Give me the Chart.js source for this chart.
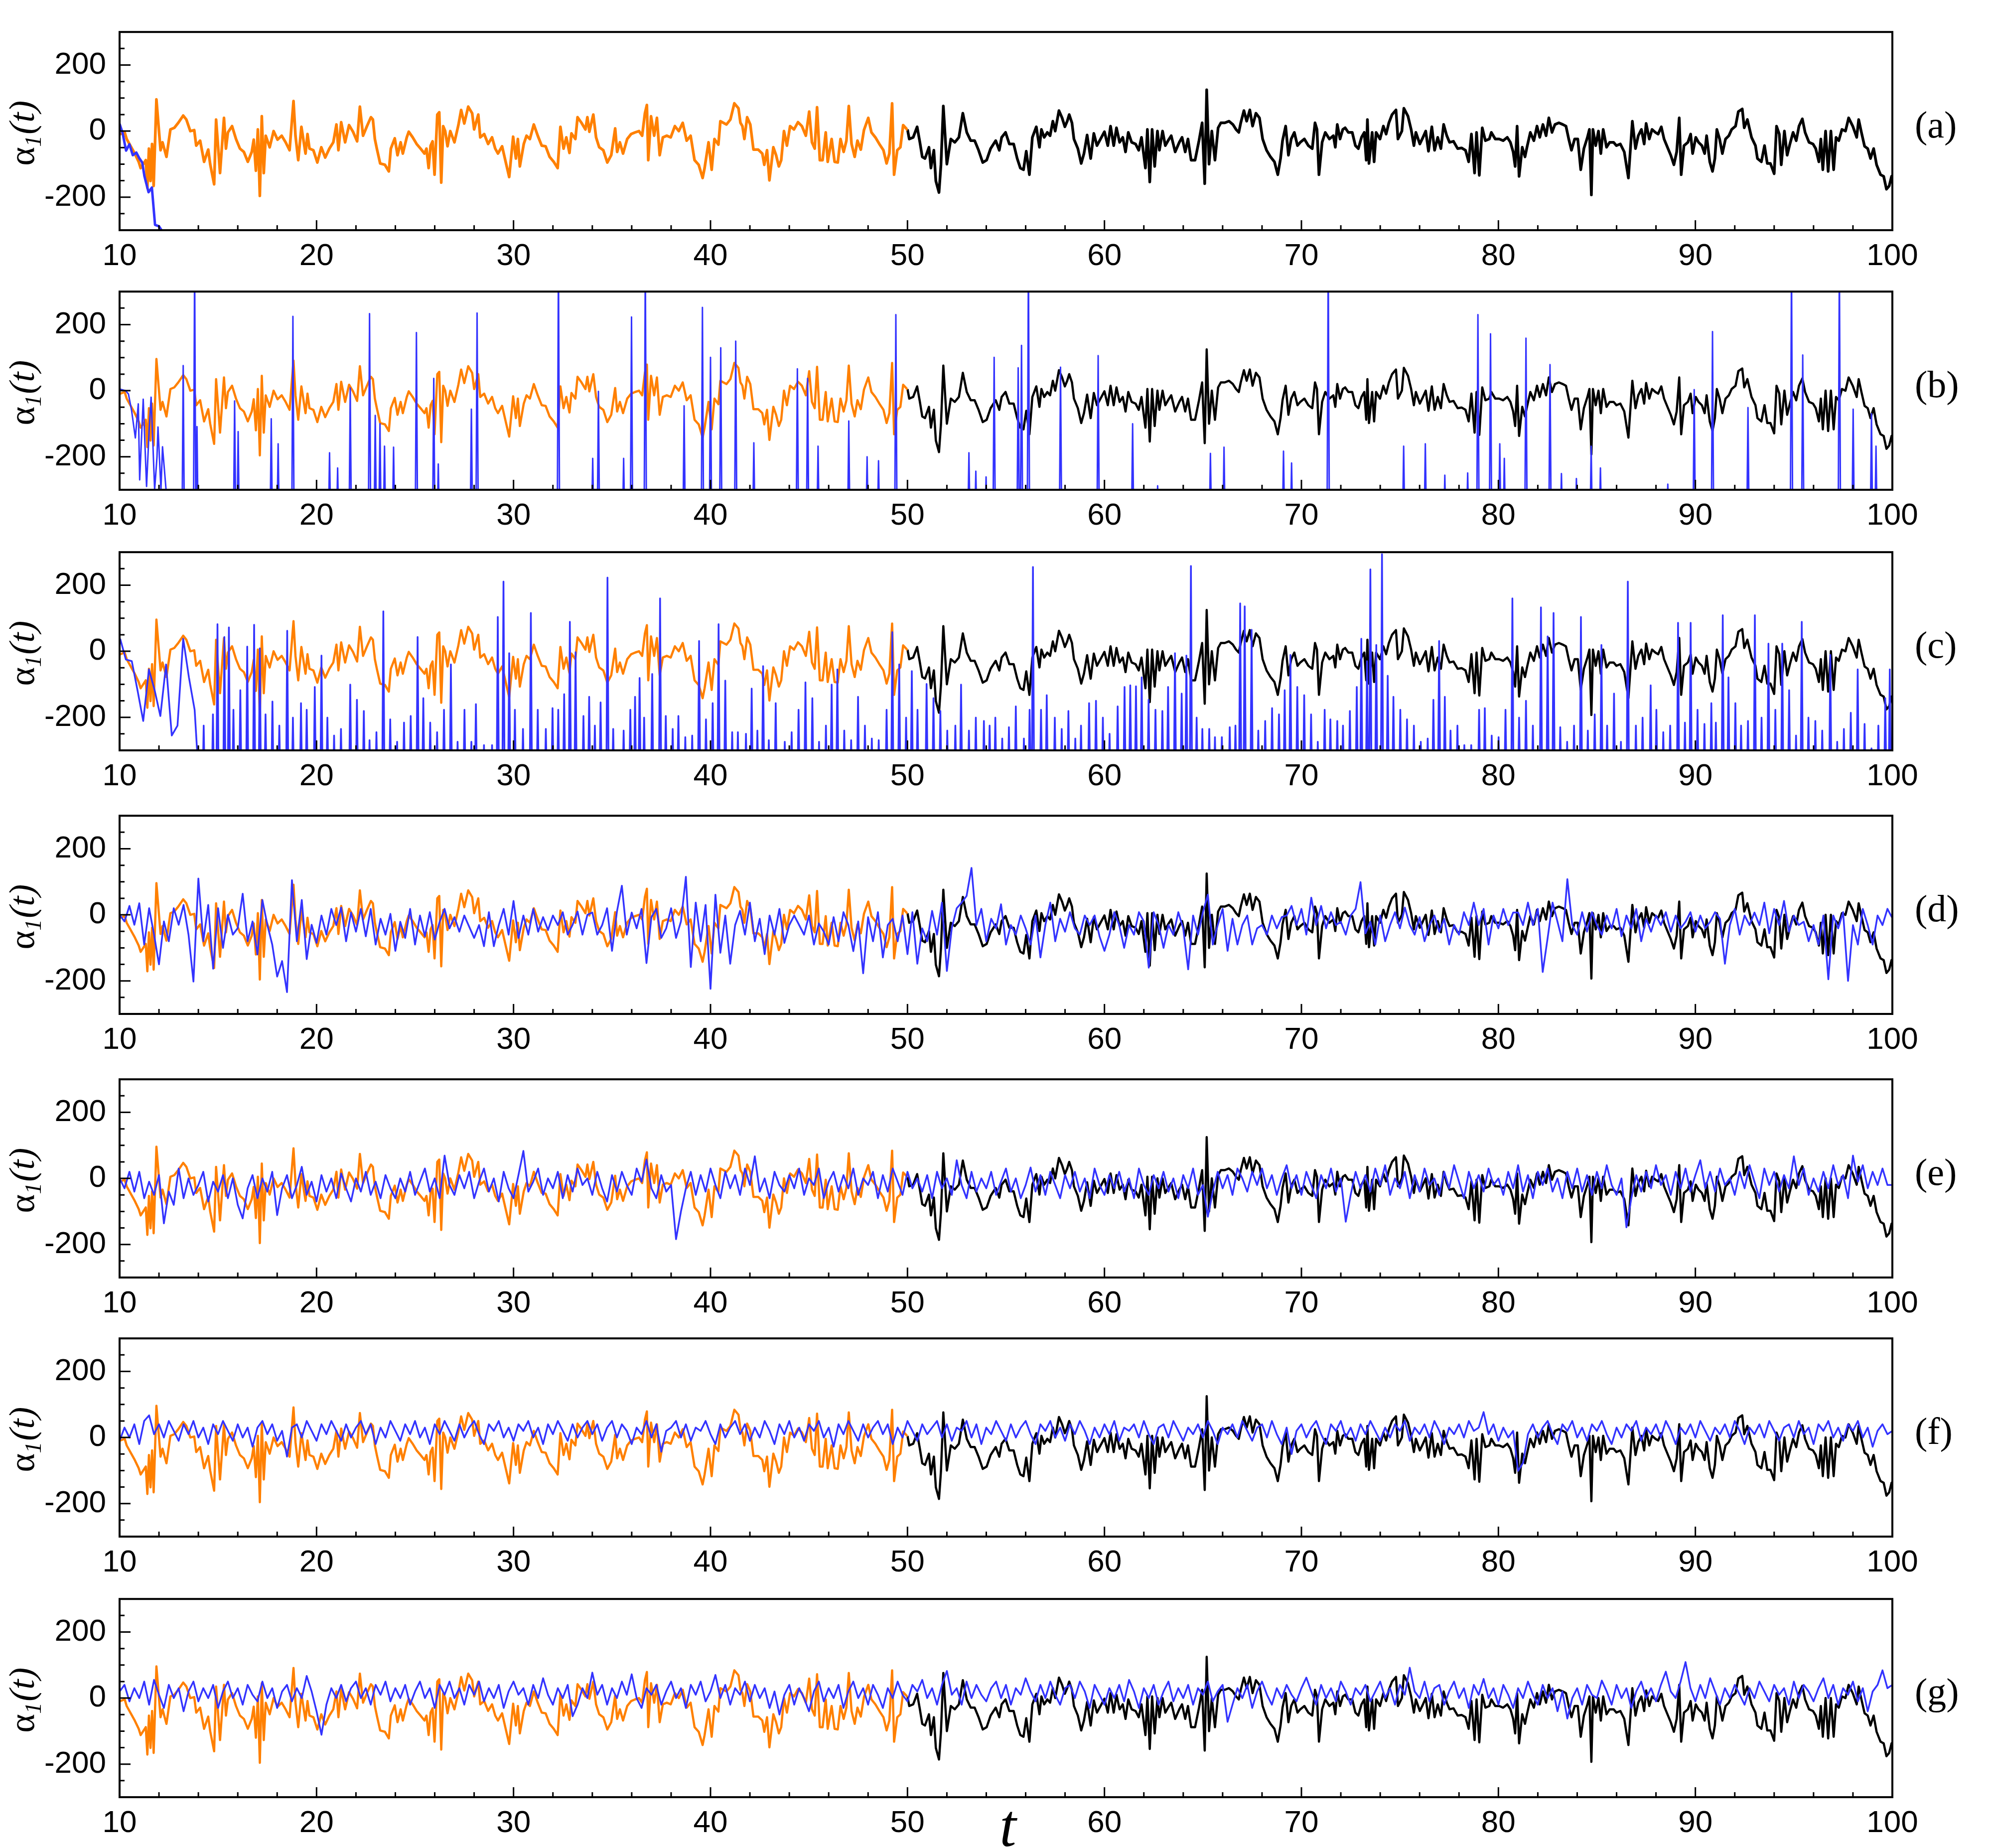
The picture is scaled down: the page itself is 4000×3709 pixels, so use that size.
<!DOCTYPE html>
<html>
<head>
<meta charset="utf-8">
<script src="https://cdn.jsdelivr.net/npm/chart.js@4.4.1/dist/chart.umd.min.js"></script>
<style>
  html, body { margin: 0; padding: 0; background: #fff; }
  #wrap { position: relative; width: 4000px; height: 3709px; overflow: hidden; background: #fff; }
  #wrap canvas { position: absolute; left: 0; }
</style>
</head>
<body>
<div id="wrap"></div>
<script>
// reference signal, 10 <= t <= 50 (orange)
const orangeT = [
  10.00,10.26,10.36,10.77,10.97,11.07,11.33,11.41,11.49,11.57,11.65,11.73,
  11.87,11.98,12.08,12.18,12.38,12.58,12.78,12.98,13.23,13.39,
  13.59,13.79,13.89,14.09,14.29,14.50,14.60,14.80,14.90,15.10,
  15.30,15.40,15.50,15.71,15.91,16.11,16.31,16.51,16.71,16.81,
  16.92,17.02,17.12,17.22,17.32,17.42,17.62,17.82,18.02,18.23,
  18.43,18.63,18.83,18.93,19.07,19.23,19.44,19.54,19.64,19.84,
  20.04,20.24,20.44,20.65,20.85,21.01,21.11,21.25,21.45,21.65,
  21.85,22.06,22.20,22.36,22.56,22.76,22.86,22.96,23.06,23.23,
  23.47,23.67,23.77,23.97,24.11,24.27,24.38,24.58,24.68,24.88,
  25.08,25.28,25.48,25.58,25.69,25.79,25.89,25.99,26.13,26.23,
  26.33,26.43,26.53,26.65,26.79,27.00,27.20,27.34,27.50,27.70,
  27.90,28.00,28.21,28.31,28.51,28.71,28.91,29.07,29.21,29.42,
  29.62,29.78,29.98,30.12,30.22,30.32,30.52,30.66,30.83,31.03,
  31.23,31.43,31.63,31.83,32.04,32.24,32.38,32.54,32.68,32.84,
  32.94,33.14,33.25,33.45,33.65,33.75,33.85,34.05,34.19,34.35,
  34.56,34.76,34.96,35.16,35.26,35.40,35.56,35.77,35.97,36.17,
  36.37,36.53,36.67,36.77,36.84,36.98,37.14,37.28,37.42,37.58,
  37.78,37.98,38.19,38.39,38.59,38.79,38.99,39.19,39.40,39.60,
  39.70,39.90,40.06,40.20,40.40,40.50,
  40.81,41.01,41.21,41.42,41.52,41.62,41.72,41.86,42.02,42.18,
  42.42,42.63,42.73,42.87,42.99,43.19,43.33,43.47,43.59,43.73,
  43.88,44.04,44.24,44.44,44.64,44.84,45.01,45.15,45.29,45.41,
  45.55,45.69,45.85,45.95,46.15,46.30,46.46,46.60,46.76,46.90,
  47.02,47.16,47.32,47.46,47.63,47.79,48.01,48.17,48.37,48.57,
  48.78,48.94,49.08,49.22,49.32,49.48,49.64,49.78,49.98,50.00
];
const orangeV = [
  -10,-4,-24,-68,-93,-112,-88,-171,-53,-151,-39,-166,
  96,15,-58,-34,-78,5,10,25,47,35,
  0,3,-44,-29,-93,-56,-100,-161,35,-127,
  40,-53,-4,15,-24,-53,-63,-93,-63,-26,
  -120,5,-196,45,-127,-14,-49,0,-26,-14,
  -34,-58,91,-14,-88,13,-68,-9,-53,-58,
  -95,-49,-80,-53,-34,20,-58,27,-34,18,
  -2,-31,74,-14,15,42,35,-24,-53,-98,
  -102,-122,-53,-22,-73,-34,-68,-19,-2,-19,
  -39,-53,-68,-53,-112,-44,-31,-132,50,57,
  -156,15,0,-46,0,-34,18,64,23,74,
  54,5,50,-19,-9,-39,-19,-53,-68,-46,
  -98,-139,-17,-83,-24,-107,-39,-14,-24,20,
  -14,-44,-46,-78,-93,-112,13,-53,-19,-66,
  -7,-24,42,25,5,42,-2,50,-19,-49,
  -58,-95,-73,8,-63,-34,-68,-24,-9,-4,
  0,-14,54,79,-88,45,-14,40,-73,-19,
  -14,-19,15,0,25,-29,-14,-88,-102,-142,
  -112,-34,-117,-24,-41,30,
  20,35,84,69,25,15,-24,42,20,-56,
  -56,-68,-102,-58,-149,-49,-73,-107,-88,0,
  -44,15,5,27,15,-14,59,-34,-53,72,
  -88,-88,-4,-93,-24,-93,-95,-24,-63,-29,
  76,-39,-78,-29,-56,3,40,-4,-19,-39,
  -58,-98,-68,84,-132,-58,-49,18,5,5
];

// reference signal, 50 <= t <= 100 (black)
const blackT = [
  50.00,50.09,50.29,50.49,50.63,50.75,50.89,51.09,51.19,51.34,51.44,
  51.60,51.70,51.82,52.00,52.20,52.40,52.61,52.81,53.01,53.21,
  53.41,53.61,53.82,54.02,54.22,54.48,54.66,54.78,54.98,55.17,
  55.39,55.57,55.73,55.89,56.03,56.19,56.34,56.54,56.70,56.80,
  56.94,57.10,57.24,57.38,57.50,57.69,57.85,57.99,58.11,58.21,
  58.35,58.45,58.65,58.82,58.96,59.12,59.30,59.46,59.62,59.80,
  60.00,60.17,60.31,60.47,60.61,60.77,60.93,61.07,61.21,61.38,
  61.58,61.74,61.88,62.08,62.18,62.30,62.42,62.55,62.69,62.79,
  62.95,63.09,63.23,63.39,63.59,63.80,63.94,64.10,64.24,64.40,
  64.60,64.80,64.96,65.09,65.19,65.31,65.45,65.61,65.77,65.91,
  66.11,66.32,66.52,66.68,66.82,66.92,67.08,67.22,67.38,67.52,
  67.69,67.87,68.03,68.23,68.43,68.63,68.80,68.94,69.04,69.20,
  69.34,69.48,69.64,69.80,69.94,70.15,70.35,70.55,70.69,70.79,
  70.89,71.05,71.21,71.42,71.62,71.72,71.82,71.96,72.10,
  72.22,72.38,72.58,72.74,72.89,73.05,73.19,73.29,73.35,73.43,
  73.59,73.69,73.79,73.99,74.16,74.30,74.44,74.60,74.80,74.90,
  75.10,75.20,75.41,75.57,75.71,75.81,76.01,76.17,76.31,76.45,
  76.62,76.76,76.92,77.08,77.22,77.38,77.52,77.72,77.93,78.13,
  78.33,78.49,78.63,78.79,78.89,79.03,79.18,79.34,79.54,79.64,
  79.84,80.04,80.24,80.45,80.61,80.75,80.85,80.95,81.05,81.21,
  81.35,81.45,81.62,81.80,81.96,82.10,82.26,82.42,82.56,82.72,
  82.87,83.07,83.27,83.43,83.57,83.71,83.87,84.03,84.18,84.34,
  84.52,84.62,84.72,84.80,84.94,85.08,85.20,85.32,85.49,85.65,
  85.85,85.99,86.19,86.39,86.60,86.80,86.96,87.10,87.26,87.40,
  87.50,87.66,87.80,87.97,88.11,88.27,88.41,88.61,88.75,88.91,
  89.05,89.18,89.28,89.42,89.62,89.76,89.86,90.02,90.16,90.33,
  90.47,90.57,90.73,90.87,90.99,91.09,91.23,91.37,91.53,91.70,
  91.84,92.04,92.18,92.38,92.48,92.64,92.85,93.05,93.15,93.35,
  93.51,93.65,93.81,94.00,94.12,94.26,94.36,94.52,94.66,94.80,
  94.96,95.12,95.26,95.43,95.57,95.77,95.97,96.11,96.27,96.37,
  96.47,96.61,96.74,96.88,97.02,97.14,97.28,97.44,97.62,97.78,
  97.99,98.19,98.29,98.43,98.59,98.75,98.89,99.05,99.20,99.40,
  99.56,99.70,99.84,99.96,100.00
];
const blackV = [
  5,-24,-19,13,-34,-78,-83,-49,-112,-58,-151,
  -186,-102,76,-100,-24,-34,-19,54,-4,-29,
  -29,-58,-95,-88,-53,-29,-58,-19,-4,-39,
  -39,-83,-112,-117,-61,-132,-19,13,-49,5,
  -19,-4,-14,30,0,62,40,13,30,50,
  25,-24,-53,-98,-68,-12,-83,-7,-44,-24,
  -2,-44,15,-44,10,-34,-19,-63,-4,-34,
  -39,-58,-19,-112,5,-154,5,-107,0,-58,
  0,-44,-29,-14,-63,-34,-19,-63,-24,-88,
  -88,-29,25,-159,125,-100,0,-88,10,25,
  25,30,20,5,-4,25,62,30,64,15,
  54,40,-24,-58,-78,-93,-132,-83,-29,15,
  -73,-24,-4,-44,-34,-24,-44,-53,25,5,
  -132,-34,-4,-24,-14,-49,20,-24,5,
  10,-4,-4,-44,-53,-19,-4,-88,35,-98,
  -4,-93,-4,-24,15,-9,25,50,64,-24,
  0,69,45,5,-44,-4,-39,-19,0,-61,
  13,-58,-19,-53,20,-14,-34,-31,-53,-51,
  -58,-93,-9,-127,-4,-134,10,-29,-24,-4,
  -24,-24,-29,-19,-34,-63,-107,15,-137,-49,
  -78,-49,-4,-29,15,-19,20,-14,40,-4,
  20,25,20,15,-24,-58,-24,-24,-117,-53,
  -19,5,-193,5,-44,0,-68,5,-49,-34,
  -34,-44,-39,-63,-142,30,-53,-14,5,-39,
  23,-24,5,-4,-9,13,-24,-53,-73,-102,
  -63,40,-132,-44,-34,-9,-68,-19,-34,-44,
  -68,-14,-93,-122,-83,5,-24,-68,-24,-14,
  5,15,59,67,10,35,-19,-44,-83,-93,
  -44,-98,-98,-129,15,-9,-102,0,-73,-39,
  -4,-29,15,37,-4,-34,-39,-53,-93,-24,
  -117,0,-122,0,-117,-19,-29,5,0,40,
  15,-19,35,-4,-46,-53,-83,-53,-102,-132,
  -137,-176,-166,-137,-135
];

// (a) blue: diverges below the axis
const blueA_T = [10.00,10.15,10.33,10.50,10.67,10.85,11.00,11.15,11.26,11.47,11.64,11.80,12.00,12.13,12.30];
const blueA_V = [22,-5,-59,-40,-73,-65,-82,-95,-136,-185,-171,-284,-288,-300,-340];

// (b) blue: start, then spikes rising from below the axis
const blueB_startT = [10.00,10.30,10.45,10.61,10.80,10.95,11.02,11.20,11.37,11.50,11.60,11.78,11.90,11.95,12.10,12.18,12.36];
const blueB_startV = [5,0,-10,-60,-143,-40,-270,-26,-290,-120,-20,-300,-200,-110,-300,-170,-300];
const blueB_spikeT = [13.23,13.81,13.93,15.84,16.02,17.70,18.05,18.80,20.66,21.07,21.71,22.69,22.98,23.22,23.45,23.91,25.07,25.95,26.18,27.86,
  28.15,32.28,34.02,34.31,35.59,35.99,36.69,38.66,39.59,40.00,40.52,41.28,42.20,44.41,44.93,45.46,47.02,47.95,48.53,49.41,
  53.12,53.47,53.99,54.40,55.62,55.79,56.14,57.77,59.68,61.43,62.70,65.38,66.07,69.09,69.50,71.36,75.19,76.29,77.28,78.44,
  78.96,79.60,80.07,80.30,81.40,82.62,83.20,83.96,84.71,85.18,88.60,89.94,90.87,92.67,94.88,95.45,97.31,98.01,98.94,99.17];
const blueB_spikeV = [76,400,-109,-31,-124,-85,-161,225,-188,-234,8,233,-75,-100,-168,-171,176,37,-222,-56,
  235,400,-205,-2,-205,223,400,-46,252,101,130,150,-158,66,37,-168,-92,-200,-212,230,
  -188,-244,-261,101,69,137,400,71,106,-100,-288,-190,-171,-183,-219,400,-168,-161,-256,-249,
  230,172,-161,-205,159,79,-251,-266,-168,-234,-283,3,179,-51,400,108,400,-56,-70,-168];

// (c) blue: start, then dense spikes
const blueC_startT = [10.03,10.32,10.62,10.91,11.20,11.49,11.78,12.07,12.36,12.65,12.94,13.23,13.52,13.81,13.93];
const blueC_startV = [38,-25,-30,-118,-211,-55,-118,-196,-40,-255,-225,38,-79,-177,-295];
const blueC_spikeT = [
  14.27,14.74,14.97,15.32,15.55,15.78,16.13,16.48,16.83,17.12,
  17.41,17.76,18.11,18.51,18.80,19.21,19.50,19.91,20.25,20.55,
  20.89,21.24,21.71,22.05,22.40,22.69,23.04,23.39,23.74,24.09,
  24.44,24.78,25.13,25.42,25.77,26.12,26.47,26.82,27.16,27.51,
  27.86,28.09,28.50,28.91,29.20,29.49,29.78,30.07,30.48,30.88,
  31.23,31.64,31.98,32.27,32.57,32.86,33.15,33.55,33.84,34.13,
  34.42,34.77,35.06,35.59,35.93,36.17,36.40,36.63,37.04,37.44,
  37.73,38.08,38.37,38.72,39.07,39.42,39.77,40.11,40.41,40.75,
  41.10,41.39,41.80,42.09,42.38,42.67,42.96,43.31,43.77,44.12,
  44.47,44.82,45.17,45.51,45.86,46.15,46.44,46.79,47.14,47.49,
  47.84,48.19,48.54,48.94,49.23,49.58,49.93,50.22,50.51,50.97,
  51.32,51.67,52.02,52.43,52.72,53.12,53.47,53.88,54.17,54.46,
  54.81,55.15,55.50,55.91,56.20,56.37,56.78,57.07,57.48,57.83,
  58.17,58.52,58.81,59.22,59.57,59.92,60.26,60.67,61.02,61.31,
  61.60,61.89,62.24,62.59,62.94,63.23,63.58,63.92,64.16,64.39,
  64.68,64.97,65.32,65.61,65.96,66.36,66.65,66.89,67.12,67.47,
  67.81,68.16,68.51,68.86,69.15,69.44,69.79,70.14,70.49,70.83,
  71.18,71.47,71.82,72.11,72.46,72.81,73.04,73.33,73.50,73.80,
  74.09,74.38,74.67,75.02,75.36,75.71,76.06,76.41,76.70,76.99,
  77.28,77.57,77.92,78.27,78.62,79.02,79.31,79.66,80.01,80.36,
  80.71,81.05,81.40,81.75,82.16,82.50,82.80,83.14,83.49,83.84,
  84.19,84.54,84.89,85.23,85.52,85.87,86.22,86.57,86.98,87.32,
  87.73,88.02,88.37,88.72,89.12,89.47,89.76,90.11,90.46,90.81,
  91.04,91.39,91.68,92.03,92.32,92.67,93.02,93.36,93.71,94.06,
  94.41,94.76,95.11,95.40,95.74,96.09,96.44,96.85,97.20,97.54,
  97.89,98.24,98.59,98.94,99.29,99.64,99.87
];
const blueC_spikeV = [
  -225,-191,82,43,72,-177,-118,14,80,9,
  -191,-152,-225,62,-201,-157,-177,-108,-13,-201,
  -255,-235,-101,-147,-181,-269,-245,121,-206,-274,
  -216,-196,43,-142,-216,-245,-177,-40,-274,-177,
  -274,-160,-284,-284,104,211,-6,-177,-235,116,
  -177,-235,-172,-177,-130,89,-3,-196,-138,-225,
  -155,223,-235,-240,-177,-138,-81,-201,-69,160,
  -196,-235,-196,-260,-255,31,-206,-157,82,-89,
  -245,-245,-250,-113,-240,-45,-269,-157,-274,-245,
  -177,-94,-142,-274,-225,-101,-55,-240,-269,-138,
  -225,-264,-269,-177,58,-40,-201,-60,-177,-99,
  -142,-181,-240,-225,-101,-240,-201,-211,-225,-201,
  -264,-230,-167,-264,-177,255,-177,-133,-201,-235,
  -181,-264,-225,-157,-150,-201,-250,-167,-108,-103,
  -106,-79,-147,-177,-181,-108,-6,-128,-13,258,
  -201,-235,-235,-260,-260,-230,-225,145,136,65,
  -240,-211,-172,-191,-118,-11,-108,-133,-191,-274,
  -177,-206,-211,-225,-181,-108,38,-30,248,19,
  294,-74,-138,-177,-206,-225,-274,-264,-147,31,
  -138,-240,-225,-284,-284,-177,-172,-255,-260,-177,
  160,-201,-150,-225,133,45,116,-230,-274,-225,
  104,-240,-191,19,-225,-128,-274,211,-225,-201,
  -103,-177,-245,-225,86,-216,86,-177,-220,-157,
  -216,109,-79,-157,-225,-211,109,-201,23,-177,
  23,-118,-255,89,-201,-211,-240,-11,-274,-235,
  -186,-55,-220,-294,-225,-142,-55
];

// (d)-(g) blue, four readings per time unit from t = 10 to t = 100
const gridStart = 10, gridStep = 0.25;
const blueD = [
  0,-20,27,-30, 35,-90,20,-60, -150,-20,-80,20, -30,30,-60,-202, 110,-80,30,-163,
  20,-100,0,-60, -40,64,-80,-20, -120,45,-30,-90, -187,-140,-234,105, -80,45,-134,-30,
  -85,-2,-60,18, -31,22,-80,7, -51,18,-65,18, -90,-12,-60,3, -109,-21,-70,18,
  -90,-2,-65,8, -75,-21,18,-41, -7,-51,-2,-36, -70,-31,-95,8, -95,-31,18,-60,
  42,-70,-2,-60, 18,-51,-7,-46, -2,-31,8,-60, -30,10,-60,0, 7,-60,-31,20,
  -109,10,88,-60, 7,-41,18,-146, -7,18,-70,-41, 20,-70,-20,115, -158,37,-80,30,
  -224,61,-115,-2, -148,-31,12,-60, 37,-80,-12,-119, -2,-60,18,-85, -31,-2,-31,-60,
  -2,-90,-26,-51, -90,-7,-80,8, -31,-110,-20,-177, -7,-80,8,-129, -31,-12,-80,-2,
  -119,8,-148,-41, -80,12,-60,37, -170,-40,20,37, 57,142,-31,18, -80,-12,-41,32,
  -90,-31,-60,-2, -41,-90,-2,-129, -31,37,-80,-12, -51,8,-41,-60, -2,-31,-2,-65,
  -109,-60,8,-31, -100,-31,-60,8, -20,-160,8,-31, -100,-31,-60,8, -41,-165,-2,-60,
  8,61,-90,-31, 18,-109,-12,-90, -31,-2,-90,-41, -31,-60,-2,-41, -7,-2,27,-31,
  18,-60,52,-31, 27,-41,8,-31, -21,-60,-2,18, 99,-56,-21,-90, -2,-80,-31,8,
  -41,22,-31,-60, -7,-80,-31,-2, -51,-12,-90,-31, -60,8,-31,37, -31,18,-90,-2,
  -41,18,-31,7, 7,-31,37,-31, 18,-173,-70,37, -21,-80,108,-31, -60,8,-51,8,
  -31,-60,-2,-41, 18,-65,-2,-41, 18,-80,-12,-51, -2,-31,8,-51, -2,-41,-21,8,
  -51,-2,-41,-21, 8,-12,-148,-31, 18,-60,-2,-31, 7,-31,37,-56, 18,-31,42,-51,
  -2,-31,-21,-80, -31,-90,-2,-195, -2,-41,8,-200, -31,-90,18,-31, -90,-2,-31,18,
  -10
];
const blueE = [
  0,-30,20,-40, 20,-60,-10,-50, 10,-136,-40,-80, 30,-60,0,-50, -20,20,-70,-10,
  -40,10,-60,0, -80,-121,-30,10, -60,0,-40,20, -111,-30,10,-60, -20,35,-50,-10,
  -70,10,-40,0, -60,15,-30,-70, 0,-40,20,-50, -10,-60,10,-30, -60,0,-40,20,
  -50,-10,30,-40, 0,-60,69,-20, -50,10,-30,20, -60,-10,30,-40, 0,-70,20,-30,
  -60,10,83,-40, -10,30,-50,0, -30,20,-60,10, -40,30,-20,0, -50,20,-30,-70,
  10,-40,20,-20, -50,30,-10,57, -30,-60,10,-40, -20,-184,-100,-30, 20,-50,10,-40,
  30,-20,-60,20, -30,10,-50,30, -20,67,-40,0, -60,20,-20,-40, 10,-30,30,-50,
  0,-20,30,-60, -10,20,-40,10, -30,30,-50,0, -20,20,-60,10, -40,30,-10,-50,
  20,-30,0,-40, 10,-60,20,-30, 0,-50,55,-20, -60,20,-40,0, -30,20,-50,-10,
  30,-40,0,-60, -20,33,-40,10, -50,20,-20,-60, 10,-30,20,-40, 0,-60,30,-20,
  -50,10,-30,20, -40,0,-60,30, -20,-50,10,-30, 20,-40,0,-60, 10,-30,30,-50,
  -20,-116,-40,20, -30,10,-50,30, 0,-40,20,-20, 30,-30,10,-50, 0,40,-30,10,
  -50,20,-20,-60, 10,-30,30,-40, 0,-131,-50,20, -30,10,-40,30, -20,40,-50,0,
  -30,20,-60,10, -40,30,-20,0, -50,20,-30,40, -10,-60,20,-30, 10,-40,30,-20,
  0,-50,20,-30, 40,-40,10,-60, 20,-20,30,-40, 0,-60,20,-30, 30,-40,10,-50,
  20,-30,40,-20, -50,0,-148,-60, 10,-40,20,-30, 40,-20,10,-50, 20,-30,30,-40,
  10,55,-30,20, -40,30,-20,0, -50,20,-30,40, -10,-60,30,-20, 20,-40,10,-30,
  67,-20,30,-50, 0,-40,20,-30, 40,-20,10,-60, 69,-10,40,-30, 20,-20,30,-20,
  -20
];
const blueF = [
  -10,30,0,40, -20,50,67,10, 40,0,50,20, -10,40,10,50, 0,30,-20,40,
  10,50,20,-10, 40,0,30,-28, 30,50,10,40, -10,20,-58,30, 40,0,50,20,
  -10,40,10,50, 20,-10,40,0, 30,50,10,40, -20,30,0,50, 20,-10,40,10,
  50,0,30,-20, 40,10,50,20, -10,40,0,30, 50,10,-20,40, 20,50,0,30,
  -10,40,20,50, 0,30,-20,40, 10,50,20,-10, 40,0,30,50, 10,40,-10,30,
  50,0,40,20, -20,30,10,50, 0,40,-43,20, 30,50,0,40, -10,30,20,50,
  10,-20,40,0, 30,50,10,40, -10,30,0,50, 20,-20,40,10, 50,0,30,-10,
  40,20,50,0, 30,-28,40,10, 50,20,-10,40, 0,30,50,10, 40,-20,30,0,
  50,20,-10,40, 10,30,50,0, 40,-10,30,20, 50,0,40,-20, 30,10,50,20,
  -10,40,0,30, 50,10,-20,40, 20,50,0,30, -10,40,10,50, 20,-20,30,0,
  40,10,50,-10, 30,20,40,0, 50,10,-20,30, 40,0,50,20, -10,30,10,40,
  0,50,20,-20, 30,10,40,0, 50,20,-10,30, 40,0,50,10, -20,30,-50,20,
  40,0,30,50, 10,-20,40,20, 50,0,30,-10, 40,10,50,20, -10,30,0,40,
  20,50,-10,30, 10,40,0,50, 20,-20,30,10, 40,0,50,20, 30,77,10,40,
  -10,30,0,20, -101,-77,10,40, 0,30,50,10, -20,40,20,50, 0,30,-10,40,
  20,50,10,-20, 30,0,40,20, 50,-10,30,10, 40,0,50,20, -20,30,10,40,
  0,50,20,-10, 30,10,40,0, 50,20,-20,30, 10,40,0,50, 20,-10,30,40,
  0,50,10,30, -20,40,20,50, 0,30,-10,40, 20,50,0,30, -28,20,40,10,
  20
];
const blueG = [
  20,40,-10,30, 0,50,-20,55, 10,-30,40,0, 30,-40,20,50, -10,30,0,40,
  -30,20,50,0, 30,-20,40,10, -10,50,0,30, -30,20,40,-10, 30,0,67,20,
  -40,-111,-20,30, 0,40,-10,30, 50,0,30,-20, 40,10,50,-10, 30,0,40,-20,
  20,50,0,30, -30,40,10,50, 0,30,-20,40, 10,50,-10,30, 0,40,-30,20,
  50,10,30,-20, 40,0,60,10, -20,30,0,40, -55,-20,30,0, 77,10,40,-20,
  30,0,50,10, 72,0,-30,30, 10,40,-20,20, 50,0,30,-30, 40,10,50,-10,
  20,70,0,40, -20,30,10,50, -10,40,0,30, -30,20,-50,10, 40,-20,30,0,
  -40,20,50,-10, 30,0,40,-30, 20,50,0,30, -20,40,10,-30, 30,0,50,10,
  -10,40,20,55, 0,30,-20,40, 82,10,30,-20, 50,0,40,10, -10,30,50,0,
  40,-20,30,10, 60,20,-10,40, 0,50,10,-20, 30,40,0,50, 20,-30,40,10,
  -20,30,0,40, -10,55,20,-30, 30,0,40,-20, 20,50,-10,30, 0,40,-20,30,
  10,50,-10,20, 40,-72,-20,30, 0,40,-30,20, 50,10,-20,30, 0,40,10,-10,
  30,62,20,-20, 40,0,30,-10, 50,20,-20,30, 10,40,-10,20, 50,0,30,-20,
  40,10,92,20, 0,50,-10,30, 40,-20,20,50, 0,30,-30,40, 10,58,0,30,
  -20,40,10,-30, 30,0,50,10, -20,40,0,30, -40,20,-62,0, 30,-20,40,10,
  0,53,20,-20, 40,0,30,-30, 20,50,0,30, -10,40,80,20, 0,50,109,30,
  -10,40,0,60, 20,-20,30,0, 40,10,-20,30, 0,50,20,-10, 40,10,30,-20,
  50,0,40,20, -10,30,60,0, 40,-20,30,10, 50,-10,30,-40, 20,40,84,30,
  40
];

const panelLabels = ['(a)', '(b)', '(c)', '(d)', '(e)', '(f)', '(g)'];
const yTickLabels = [-200, 0, 200];
const xTickLabels = [10, 20, 30, 40, 50, 60, 70, 80, 90, 100];

const ORANGE = '#ff8000';
const BLUE = '#3333ff';

// page layout
const panelTops = [54, 575, 1098, 1627, 2156, 2676, 3199];
const padTop = 54, plotH = 408, axisH = 120;
const refWidth = [5.5, 4.5, 4.5, 4.5, 4.5, 4.5, 4.5];
const blueWidth = [5, 3, 3.5, 3.5, 3.5, 3.5, 3.5];

function pts(T, V) {
  return T.map((t, i) => ({ x: t, y: V[i] }));
}
function spikes(T, V) {
  const out = [];
  T.forEach((t, i) => {
    out.push({ x: t - 0.06, y: -420 }, { x: t, y: V[i] }, { x: t + 0.06, y: -420 });
  });
  return out;
}
function grid(V) {
  return V.map((v, i) => ({ x: gridStart + i * gridStep, y: v }));
}

const blueSeries = [
  pts(blueA_T, blueA_V),
  pts(blueB_startT, blueB_startV).concat(spikes(blueB_spikeT, blueB_spikeV)),
  pts(blueC_startT, blueC_startV).concat(spikes(blueC_spikeT, blueC_spikeV)),
  grid(blueD), grid(blueE), grid(blueF), grid(blueG)
];

const decor = {
  id: 'decor',
  afterDatasetsDraw(chart, args, opts) {
    const { ctx, chartArea: a } = chart;
    const x = chart.scales.x, y = chart.scales.y;
    ctx.save();
    ctx.strokeStyle = '#000';
    ctx.lineWidth = 3;
    ctx.beginPath();
    for (let t = 10; t <= 100; t += 2) {
      const px = x.getPixelForValue(t);
      const len = t % 10 === 0 ? 20 : 10;
      ctx.moveTo(px, a.bottom); ctx.lineTo(px, a.bottom - len);
    }
    for (let v = -250; v <= 250; v += 50) {
      const py = y.getPixelForValue(v);
      const len = v % 200 === 0 ? 22 : 10;
      ctx.moveTo(a.left, py); ctx.lineTo(a.left + len, py);
    }
    ctx.stroke();
    ctx.lineWidth = 4;
    ctx.strokeRect(a.left, a.top, a.right - a.left, a.bottom - a.top);

    const zeroY = y.getPixelForValue(0);
    ctx.fillStyle = '#000';
    ctx.textBaseline = 'alphabetic';
    ctx.textAlign = 'left';
    ctx.font = '76px "Liberation Serif"';
    ctx.fillText(opts.label, 3843, zeroY + 13);

    // y title: alpha_1(t), rotated
    ctx.save();
    ctx.translate(68, zeroY + 5);
    ctx.rotate(-Math.PI / 2);
    const f1 = '72px "Liberation Serif"', f2 = 'italic 46px "Liberation Serif"', f3 = 'italic 72px "Liberation Serif"';
    ctx.font = f1; const w1 = ctx.measureText('\u03b1').width;
    ctx.font = f2; const w2 = ctx.measureText('1').width;
    ctx.font = f3; const w3 = ctx.measureText('(t)').width;
    let cx = -(w1 + w2 + w3) / 2;
    ctx.font = f1; ctx.fillText('\u03b1', cx, 0); cx += w1;
    ctx.font = f2; ctx.fillText('1', cx, 14); cx += w2 + 2;
    ctx.font = f3; ctx.fillText('(t)', cx, 0);
    ctx.restore();

    if (opts.xTitle) {
      ctx.textAlign = 'center';
      ctx.font = 'italic 120px "Liberation Serif"';
      ctx.fillText('t', 2023, a.bottom + 98);
    }
    ctx.restore();
  }
};

const wrap = document.getElementById('wrap');
const tickFont = { family: '"Liberation Sans", Arial, sans-serif', size: 62 };

panelLabels.forEach((label, i) => {
  const cv = document.createElement('canvas');
  cv.width = 4000;
  cv.height = padTop + plotH + axisH;
  cv.style.top = (panelTops[i] - padTop) + 'px';
  wrap.appendChild(cv);
  new Chart(cv, {
    type: 'line',
    data: {
      datasets: [
        { data: blueSeries[i], borderColor: BLUE, borderWidth: blueWidth[i], order: 0 },
        { data: pts(orangeT, orangeV), borderColor: ORANGE, borderWidth: refWidth[i], order: 1 },
        { data: pts(blackT, blackV), borderColor: '#000', borderWidth: refWidth[i], order: 1 }
      ]
    },
    options: {
      responsive: false,
      animation: false,
      devicePixelRatio: 1,
      layout: { padding: { left: 0, right: 202, top: padTop, bottom: 0 } },
      datasets: { line: { clip: 0, pointRadius: 0, tension: 0, borderJoinStyle: 'round', fill: false } },
      plugins: { legend: { display: false }, tooltip: { enabled: false }, decor: { label: label, xTitle: i === 6 } },
      scales: {
        x: {
          type: 'linear', min: 10, max: 100,
          grid: { display: false, drawTicks: false }, border: { display: false },
          ticks: { stepSize: 2, autoSkip: false, maxRotation: 0, padding: 16, color: '#000', font: tickFont,
            callback: v => xTickLabels.includes(v) ? String(v) : '' },
          afterFit: s => { s.height = axisH; }
        },
        y: {
          type: 'linear', min: -300, max: 300,
          grid: { display: false, drawTicks: false }, border: { display: false },
          ticks: { stepSize: 50, autoSkip: false, padding: 27, color: '#000', font: tickFont,
            callback: v => yTickLabels.includes(v) ? String(v) : '' },
          afterFit: s => { s.width = 240; }
        }
      }
    },
    plugins: [decor]
  });
});
</script>
</body>
</html>
